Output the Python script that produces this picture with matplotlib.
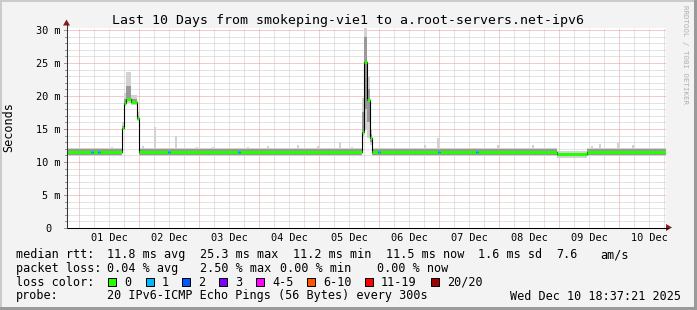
import matplotlib
matplotlib.use("Agg")
import matplotlib.pyplot as plt
from matplotlib.patches import Rectangle, Polygon
from matplotlib.lines import Line2D
from matplotlib.transforms import ScaledTranslation
import numpy as np

# ---- values (x: day of December, y: milliseconds) ----
seg_start = [0.80, 1.20, 1.233, 1.317, 1.35, 1.717, 1.75, 1.783, 1.867, 1.967,
             2.00, 2.483, 2.517, 3.65, 3.683, 5.717, 5.75, 5.80, 5.85, 5.883,
             5.983, 6.017, 6.983, 7.017, 7.617, 7.65, 8.967, 9.467]
seg_end_last = 10.783
median_ms = [11.5, 11.5, 11.5, 11.5, 11.5, 15.2, 19.0, 19.6, 19.1, 16.7,
             11.5, 11.5, 11.5, 11.5, 11.5, 14.5, 25.2, 19.4, 13.6, 11.5,
             11.5, 11.5, 11.5, 11.5, 11.5, 11.5, 11.2, 11.5]
loss_count = [0, 1, 0, 1, 0, 0, 0, 0, 0, 0,
              0, 1, 0, 1, 0, 0, 0, 0, 0, 0,
              1, 0, 1, 0, 1, 0, 0, 0]
# smoke: outer (light) and core (dark) band per segment
smoke_lo = [10.9, 10.9, 10.9, 10.9, 10.9, 14.9, 18.5, 19.0, 18.6, 16.2,
            10.9, 10.9, 10.9, 10.9, 10.9, 14.0, 14.8, 13.7, 12.5, 10.9,
            10.9, 10.9, 10.9, 10.9, 10.9, 10.9, 10.6, 10.9]
smoke_hi = [12.1, 12.1, 12.1, 12.1, 12.1, 16.0, 20.5, 23.6, 20.2, 17.5,
            12.1, 12.1, 12.1, 12.1, 12.1, 19.7, 30.5, 22.9, 14.8, 12.1,
            12.1, 12.1, 12.1, 12.1, 12.1, 12.1, 11.6, 12.1]
core_lo = [11.0, 11.0, 11.0, 11.0, 11.0, 15.0, 18.8, 19.3, 18.9, 16.4,
           11.0, 11.0, 11.0, 11.0, 11.0, 14.3, 18.0, 16.0, 13.0, 11.0,
           11.0, 11.0, 11.0, 11.0, 11.0, 11.0, 10.9, 11.0]
core_hi = [12.0, 12.0, 12.0, 12.0, 12.0, 15.5, 19.6, 21.5, 19.6, 17.0,
           12.0, 12.0, 12.0, 12.0, 12.0, 17.5, 29.0, 21.0, 14.2, 12.0,
           12.0, 12.0, 12.0, 12.0, 12.0, 12.0, 11.4, 12.0]
# isolated slow pings above the baseline smoke
spike_day = [1.55, 2.067, 2.267, 2.617, 2.967, 3.233, 3.40, 3.817, 4.15, 4.65,
             4.983, 5.35, 5.55, 6.767, 6.983, 7.983, 8.567, 9.55, 9.683, 9.983,
             10.233]
spike_top = [12.3, 12.4, 15.3, 13.9, 12.3, 12.3, 12.1, 12.2, 12.4, 12.6,
             12.4, 13.1, 12.2, 12.6, 13.6, 12.6, 12.5, 12.4, 12.7, 12.9,
             12.5]

day_ticks = [1, 2, 3, 4, 5, 6, 7, 8, 9, 10]
day_labels = ['01 Dec', '02 Dec', '03 Dec', '04 Dec', '05 Dec',
              '06 Dec', '07 Dec', '08 Dec', '09 Dec', '10 Dec']
y_ticks = [0, 5, 10, 15, 20, 25, 30]
y_labels = ['0', '5 m', '10 m', '15 m', '20 m', '25 m', '30 m']

loss_labels = ['0', '1', '2', '3', '4-5', '6-10', '11-19', '20/20']
loss_colors = ['#26ff00', '#00b8ff', '#0059ff', '#7e00ff',
               '#ff00ff', '#ff5500', '#ff0000', '#a10000']

title = 'Last 10 Days from smokeping-vie1 to a.root-servers.net-ipv6'
rtt_row = [('median rtt:', 16), ('11.8 ms avg', 107), ('25.3 ms max', 200),
           ('11.2 ms min', 293), ('11.5 ms now', 386), ('1.6 ms sd', 478),
           ('7.6', 556), ('am/s', 600)]
loss_row = [('packet loss:', 16), ('0.04 % avg', 107), ('2.50 % max', 200),
            ('0.00 % min', 280), ('0.00 % now', 377)]
probe_text = '20 IPv6-ICMP Echo Pings (56 Bytes) every 300s'
stamp_text = 'Wed Dec 10 18:37:21 2025'

# ---- layout ----
W, H = 697, 310
MONO = 'DejaVu Sans Mono'
GRID = '#c8c8c8'
MGRID = '#e39b9b'
ARROW = '#8b1a1a'


def fx(p):
    return p / W


def fy(p):
    return 1 - p / H


fig = plt.figure(figsize=(W / 100, H / 100), dpi=100, facecolor='#f3f3f3')
ax = fig.add_axes([fx(67), fy(228), fx(666) - fx(67), fy(28) - fy(228)])
ax.set_facecolor('white')
ax.set_xlim(0.8, seg_end_last)
ax.set_ylim(0, 30.3)
for s in ax.spines.values():
    s.set_visible(False)
ax.set_xticks([])
ax.set_yticks([])

# grid: 6h minor / 1 day major, 1 ms minor / 5 ms major
for d in np.arange(1.0, 10.8, 0.25):
    major = abs(d - round(d)) < 1e-6
    ax.axvline(d, color=MGRID if major else GRID, lw=0.72, ls=(0, (1, 1)), zorder=0)
for v in range(1, 31):
    ax.axhline(v, color=MGRID if v % 5 == 0 else GRID, lw=0.72, ls=(0, (1, 1)), zorder=0)

# smoke + median
x_edges = seg_start + [seg_end_last]
ax.fill_between(x_edges, smoke_lo + smoke_lo[-1:], smoke_hi + smoke_hi[-1:],
                step='post', color='#d2d2d2', lw=0, zorder=2)
ax.bar(spike_day, [t - 11.9 for t in spike_top], bottom=11.9, width=0.045,
       color='#d2d2d2', lw=0, zorder=2)
ax.fill_between(x_edges, core_lo + core_lo[-1:], core_hi + core_hi[-1:],
                step='post', color='#999999', lw=0, zorder=3)
ax.step(x_edges, median_ms + median_ms[-1:], where='post', color='black', lw=0.8, zorder=4)
ax.hlines(median_ms, seg_start, x_edges[1:],
          colors=[loss_colors[n] for n in loss_count], lw=2.2, zorder=5)

# y tick labels and small ticks left of the axis
ylab_tr = ax.get_yaxis_transform()
for v, lab in zip(y_ticks, y_labels):
    dx = -16 if lab == '0' else -7
    ax.text(0, v, lab, transform=ylab_tr + ScaledTranslation(dx / 100, -4 / 100, fig.dpi_scale_trans),
            ha='right', va='baseline', fontsize=7.4, family=MONO)
for v in range(0, 31):
    ln = 3 if v % 5 == 0 else 2
    ax.add_line(Line2D([-ln / 599, 0], [v, v], transform=ylab_tr, color='#999999',
                       lw=0.72, clip_on=False))

# x tick labels (centred at noon)
xlab_tr = ax.get_xaxis_transform()
for d, lab in zip(day_ticks, day_labels):
    ax.text(d + 0.5, 0, lab, transform=xlab_tr + ScaledTranslation(0, -12.7 / 100, fig.dpi_scale_trans),
            ha='center', va='baseline', fontsize=7.4, family=MONO)

# axes with arrows
fig.add_artist(Line2D([fx(67), fx(668)], [fy(227.5), fy(227.5)], color='black', lw=0.75))
fig.add_artist(Line2D([fx(66.5), fx(66.5)], [fy(228), fy(24)], color='#333333', lw=0.75))
fig.add_artist(Polygon([(fx(672), fy(227.5)), (fx(666), fy(224)), (fx(666), fy(231))],
                       closed=True, color=ARROW, lw=0))
fig.add_artist(Polygon([(fx(66.5), fy(19.5)), (fx(63), fy(25.5)), (fx(70), fy(25.5))],
                       closed=True, color=ARROW, lw=0))

# texts
fig.text(fx(348.5), fy(24), title, ha='center', va='baseline', fontsize=9.5, family=MONO)
fig.text(fx(9), fy(127), 'Seconds', rotation=90, ha='center', va='center', fontsize=8.5, family=MONO)
fig.text(fx(685), fy(5), 'RRDTOOL / TOBI OETIKER', rotation=270, ha='center', va='top',
         fontsize=5.3, family=MONO, color='#b0b0b0')

for txt, px in rtt_row:
    fig.text(fx(px), fy(258.3), txt, ha='left', va='baseline', fontsize=8.5, family=MONO)
for txt, px in loss_row:
    fig.text(fx(px), fy(272), txt, ha='left', va='baseline', fontsize=8.5, family=MONO)
fig.text(fx(16), fy(285.7), 'loss color:', ha='left', va='baseline', fontsize=8.5, family=MONO)
box_x = [108, 146, 182, 219, 256, 307, 365, 431]
for bx, lab, col in zip(box_x, loss_labels, loss_colors):
    fig.add_artist(Rectangle((fx(bx), fy(286)), 8 / W, 8 / H, facecolor=col,
                             edgecolor='black', lw=0.72, transform=fig.transFigure))
    fig.text(fx(bx + 16), fy(285.7), lab, ha='left', va='baseline', fontsize=8.5, family=MONO)
fig.text(fx(16), fy(299.5), 'probe:', ha='left', va='baseline', fontsize=8.5, family=MONO)
fig.text(fx(107), fy(299.5), probe_text, ha='left', va='baseline', fontsize=8.5, family=MONO)
fig.text(fx(681), fy(299.5), stamp_text, ha='right', va='baseline', fontsize=8.5, family=MONO)

# 3d-ish frame
fig.add_artist(Rectangle((0, fy(2)), 1, 2 / H, color='#cbcbcb', lw=0, transform=fig.transFigure))
fig.add_artist(Rectangle((0, 0), 2 / W, 1, color='#cbcbcb', lw=0, transform=fig.transFigure))
fig.add_artist(Rectangle((0, 0), 1, 3 / H, color='#9a9a9a', lw=0, transform=fig.transFigure))
fig.add_artist(Rectangle((fx(694), 0), 3 / W, 1, color='#9a9a9a', lw=0, transform=fig.transFigure))

fig.savefig('out.png', dpi=100, facecolor=fig.get_facecolor())
